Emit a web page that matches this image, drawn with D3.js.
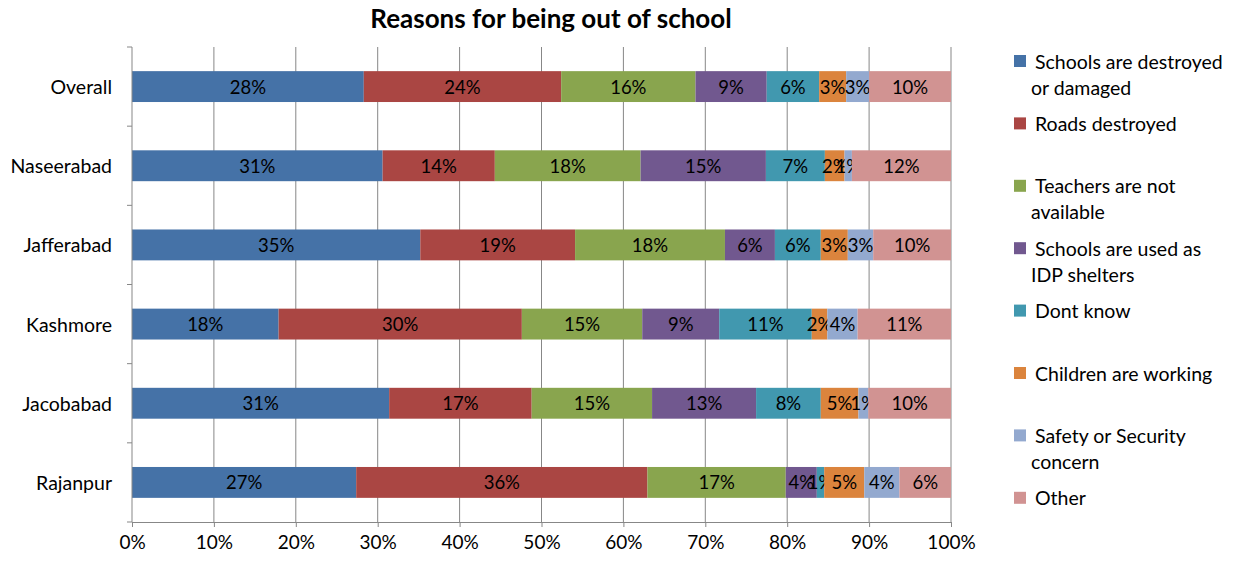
<!DOCTYPE html>
<html><head><meta charset="utf-8">
<script src="https://cdn.jsdelivr.net/npm/d3@7"></script>
<style>body{margin:0;background:#fff;} text{font-family:Lato,"Open Sans",sans-serif;}</style>
</head><body>
<svg id="c" width="1234" height="562"></svg>
<script>
const categories = ["Overall","Naseerabad","Jafferabad","Kashmore","Jacobabad","Rajanpur"];
const seriesNames = ["Schools are destroyed or damaged","Roads destroyed","Teachers are not available","Schools are used as IDP shelters","Dont know","Children are working","Safety or Security concern","Other"];
const legendLines = [["Schools are destroyed","or damaged"],["Roads destroyed"],["Teachers are not","available"],["Schools are used as","IDP shelters"],["Dont know"],["Children are working"],["Safety or Security","concern"],["Other"]];
const colors = ["#4572A7","#AA4643","#89A54E","#71588F","#4198AF","#DB843D","#93A9CF","#D19392"];
const schoolsDestroyed = [28.3, 30.6, 35.2, 17.9, 31.4, 27.4];
const roadsDestroyed   = [24.1, 13.7, 18.9, 29.7, 17.4, 35.6];
const teachersNA       = [16.4, 17.8, 18.3, 14.7, 14.7, 16.9];
const idpShelters      = [8.7, 15.3, 6.1, 9.4, 12.7, 3.8];
const dontKnow         = [6.4, 7.2, 5.6, 11.3, 7.9, 0.9];
const childrenWorking  = [3.3, 2.4, 3.3, 1.9, 4.6, 4.9];
const safetyConcern    = [2.8, 0.9, 3.1, 3.7, 1.2, 4.3];
const other            = [10.0, 12.1, 9.5, 11.4, 10.1, 6.3];
const tickValues = [0,0.1,0.2,0.3,0.4,0.5,0.6,0.7,0.8,0.9,1];

const series = [schoolsDestroyed,roadsDestroyed,teachersNA,idpShelters,dontKnow,childrenWorking,safetyConcern,other];
const rows = categories.map((c,i)=>{const r={cat:c}; series.forEach((s,k)=>r[k]=s[i]); return r;});
const stack = d3.stack().keys(d3.range(series.length)).offset(d3.stackOffsetExpand);
const layers = stack(rows);

const svg = d3.select("#c");
const L=132, R=951, T=47, B=522;
const x = d3.scaleLinear().domain([0,1]).range([L,R]);
const y = d3.scaleBand().domain(categories).range([T,B]).paddingInner(0.61).paddingOuter(0.305);
const yb = d3.scaleBand().domain(categories).range([T,B]);

// gridlines
svg.append("g").selectAll("line").data(tickValues.slice(1)).join("line")
  .attr("x1",d=>x(d)).attr("x2",d=>x(d)).attr("y1",T).attr("y2",B)
  .attr("stroke","#878787").attr("stroke-width",1);

// bars
const g = svg.append("g");
layers.forEach((layer,k)=>{
  g.append("g").selectAll("rect").data(layer).join("rect")
    .attr("x",d=>x(d[0])).attr("width",d=>x(d[1])-x(d[0]))
    .attr("y",d=>y(d.data.cat)).attr("height",y.bandwidth())
    .attr("fill",colors[k]);
  g.append("g").selectAll("text").data(layer).join("text")
    .attr("x",d=>(x(d[0])+x(d[1]))/2).attr("y",d=>y(d.data.cat)+y.bandwidth()/2)
    .attr("text-anchor","middle").attr("dominant-baseline","central")
    .attr("font-size",18.5).attr("fill","#000")
    .text(d=>Math.round(d.data[k])+"%");
});

// x axis
const xa = svg.append("g").attr("transform",`translate(0,${B})`)
  .call(d3.axisBottom(x).tickValues(tickValues).tickFormat(d3.format(".0%")).tickSize(5).tickSizeOuter(0));
xa.select(".domain").attr("stroke","#878787");
xa.selectAll(".tick line").attr("stroke","#878787");
xa.selectAll("text").attr("font-size",19).attr("y",20).attr("dy","0.35em").attr("fill","#000").style("font-family","Lato");
// y axis
svg.append("line").attr("x1",L).attr("x2",L).attr("y1",T).attr("y2",B).attr("stroke","#878787");
svg.append("g").selectAll("line").data(d3.range(categories.length+1)).join("line")
  .attr("x1",L-5).attr("x2",L).attr("y1",i=>T+i*yb.step()).attr("y2",i=>T+i*yb.step())
  .attr("stroke","#878787");
svg.append("g").selectAll("text").data(categories).join("text")
  .attr("x",112).attr("y",d=>yb(d)+yb.bandwidth()/2).attr("text-anchor","end")
  .attr("dominant-baseline","central").attr("font-size",19.5).text(d=>d);

// title
svg.append("text").attr("x",551).attr("y",28).attr("text-anchor","middle")
  .attr("font-size",26).attr("font-weight","bold").text("Reasons for being out of school");

// legend
const lg = svg.append("g");
legendLines.forEach((lines,k)=>{
  const yy = 61 + k*62.4;
  lg.append("rect").attr("x",1014).attr("y",yy-6).attr("width",12).attr("height",12).attr("fill",colors[k]);
  lines.forEach((t,j)=>{
    lg.append("text").attr("x",j===0?1035:1031).attr("y",yy+j*26).attr("dominant-baseline","central")
      .attr("font-size",19.5).text(t);
  });
});
</script>
</body></html>
